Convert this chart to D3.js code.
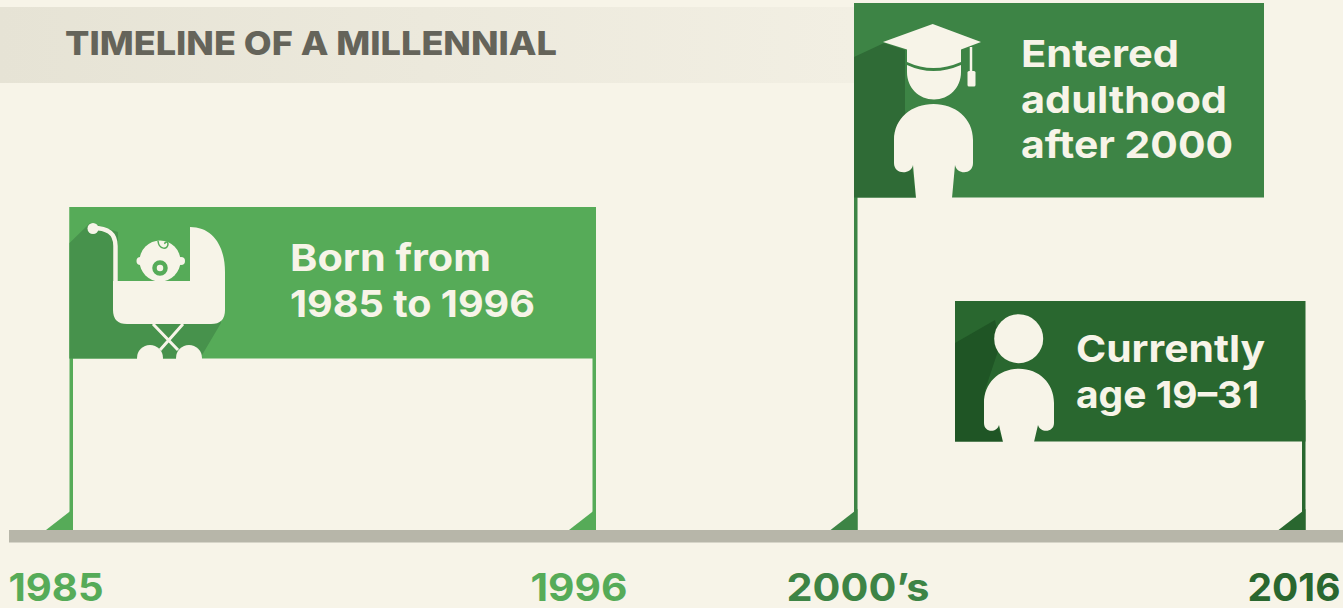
<!DOCTYPE html>
<html>
<head>
<meta charset="utf-8">
<script src="https://cdn.jsdelivr.net/npm/d3@7"></script>
<style>
  html, body { margin: 0; padding: 0; background: #f7f4e8; overflow: hidden; }
  svg { display: block; }
  text { font-family: Inter, "Open Sans", sans-serif; }
</style>
</head>
<body>
<script>
// Timeline stops
var stopYears = [1985, 1996, 2000, 2016];
var stopLabels = ["1985", "1996", "2000\u2019s", "2016"];
var stopColors = ["#56ab58", "#56ab58", "#3d8445", "#29672f"];
var labelShift = [-17.5, -17.5, 0, -12];
var labelWidth = [95, 97, 143, 93];

// Banners
var bannerNames = ["born", "adult", "now"];
var bannerColors = ["#56ab58", "#3d8445", "#29672f"];
var bannerLines = [
  ["Born from", "1985 to 1996"],
  ["Entered", "adulthood", "after 2000"],
  ["Currently", "age 19\u201331"]
];
var bannerLineWidth = [
  [201, 245],
  [158, 206, 212],
  [189, 183]
];

var title = "TIMELINE OF A MILLENNIAL";

var cream = "#f7f4e8";
var poleWidth = 3.5;

var svg = d3.select("body").append("svg")
    .attr("width", 1343)
    .attr("height", 608);

var x = d3.scaleLinear()
    .domain(stopYears)
    .range([73, 596, 857.5, 1305.5]);

// Title strip
var defs = svg.append("defs");
var grad = defs.append("linearGradient").attr("id", "strip");
grad.append("stop").attr("offset", "0%").attr("stop-color", "#e6e3d5");
grad.append("stop").attr("offset", "100%").attr("stop-color", "#f2efe3");

svg.append("rect")
    .attr("x", 0).attr("y", 7)
    .attr("width", 854).attr("height", 76)
    .attr("fill", "url(#strip)");

svg.append("text")
    .attr("x", 65).attr("y", 55)
    .attr("fill", "#65645a")
    .style("font-size", "33px")
    .style("font-weight", 800)
    .attr("textLength", 492)
    .attr("lengthAdjust", "spacingAndGlyphs")
    .text(title);

// Poles and the small triangles at their feet
var axisY = 530;
var poleTop = [207, 207, 100, 400];
svg.selectAll("rect.pole")
    .data(stopYears)
    .enter().append("rect")
    .attr("class", "pole")
    .attr("x", function(d) { return x(d) - poleWidth; })
    .attr("y", function(d, i) { return poleTop[i]; })
    .attr("width", poleWidth)
    .attr("height", function(d, i) { return axisY - poleTop[i]; })
    .attr("fill", function(d, i) { return stopColors[i]; });

svg.selectAll("path.foot")
    .data(stopYears)
    .enter().append("path")
    .attr("class", "foot")
    .attr("d", function(d) {
      return "M" + (x(d) - 27) + "," + axisY + "L" + x(d) + "," + (axisY - 21) + "V" + axisY + "Z";
    })
    .attr("fill", function(d, i) { return stopColors[i]; });

// Ground line
svg.append("rect")
    .attr("x", 9).attr("y", axisY)
    .attr("width", 1334).attr("height", 12.5)
    .attr("fill", "#b7b6a9");

// Year labels from an axis
var axis = svg.append("g")
    .attr("transform", "translate(0,562)")
    .call(d3.axisBottom(x)
      .tickValues(stopYears)
      .tickSize(0)
      .tickPadding(0)
      .tickFormat(function(d) { return stopLabels[stopYears.indexOf(d)]; }));
axis.select(".domain").remove();
axis.selectAll("text")
    .attr("dy", 0)
    .attr("y", 38.5)
    .attr("dx", function(d, i) { return labelShift[i]; })
    .attr("fill", function(d, i) { return stopColors[i]; })
    .attr("textLength", function(d, i) { return labelWidth[i]; })
    .attr("lengthAdjust", "spacingAndGlyphs")
    .style("font-size", "38.5px")
    .style("font-weight", 700);

// Banners
var boxLeft = [x(1985) - poleWidth, x(2000) - poleWidth, 955];
var boxRight = [x(1996), 1264, x(2016)];
var boxTop = [207, 3, 301];
var boxBottom = [358.5, 197.5, 441.5];
var textX = [290, 1021, 1076];
var textY = [271, 67, 362];
var textGap = [46, 45.5, 46];

bannerNames.forEach(function(name, i) {
  var g = svg.append("g").attr("class", "banner-" + name);
  g.append("rect")
      .attr("x", boxLeft[i]).attr("y", boxTop[i])
      .attr("width", boxRight[i] - boxLeft[i])
      .attr("height", boxBottom[i] - boxTop[i])
      .attr("fill", bannerColors[i]);
  g.selectAll("text")
      .data(bannerLines[i])
      .enter().append("text")
      .attr("x", textX[i])
      .attr("y", function(d, j) { return textY[i] + j * textGap[i]; })
      .attr("fill", cream)
      .attr("textLength", function(d, j) { return bannerLineWidth[i][j]; })
      .attr("lengthAdjust", "spacingAndGlyphs")
      .style("font-size", "37.5px")
      .style("font-weight", 700)
      .text(function(d) { return d; });
});

// Stroller icon
var born = svg.select(".banner-born");
born.append("path")
    .attr("d", "M69.5,243L90,223L118,232V300H218L221,323L200,358.5H69.5Z")
    .attr("fill", "#47924c");
born.append("path")
    .attr("d", "M93,228C106,228 115.5,232 115.5,246V285")
    .attr("fill", "none").attr("stroke", cream).attr("stroke-width", 4.5);
born.append("circle").attr("cx", 93).attr("cy", 228.5).attr("r", 5.5).attr("fill", cream);
born.append("path")
    .attr("d", "M113,281H190V227C212,227 225,245 225,272V310Q225,324 211,324H127Q113,324 113,310Z")
    .attr("fill", cream);
born.append("circle").attr("cx", 160).attr("cy", 261).attr("r", 20.5).attr("fill", cream);
born.append("circle").attr("cx", 140.5).attr("cy", 261).attr("r", 4).attr("fill", cream);
born.append("circle").attr("cx", 181).attr("cy", 261).attr("r", 4).attr("fill", cream);
born.append("circle").attr("cx", 160).attr("cy", 268).attr("r", 5.5)
    .attr("fill", cream).attr("stroke", "#56ab58").attr("stroke-width", 4.5);
born.append("path")
    .attr("d", "M158,241C159,250 168,250 168,244C168,241 164,242 165,244")
    .attr("fill", "none").attr("stroke", "#56ab58").attr("stroke-width", 1.5);
born.append("path")
    .attr("d", "M153,324L178,350M183,324L160,350")
    .attr("stroke", cream).attr("stroke-width", 3).attr("fill", "none");
born.append("circle").attr("cx", 150).attr("cy", 358).attr("r", 13).attr("fill", cream);
born.append("circle").attr("cx", 189).attr("cy", 358).attr("r", 13).attr("fill", cream);

// Graduate icon
var adult = svg.select(".banner-adult");
adult.append("path")
    .attr("d", "M854,57L884,43L905,50V110L916,197.5H854Z")
    .attr("fill", "#2f6b36");
adult.append("path")
    .attr("d", "M932.7,24L981,42L961,49.5V62Q933,74 907,62V49.5L883,42Z")
    .attr("fill", cream);
adult.append("path")
    .attr("d", "M907,65Q933,77 961,65V72C961,88 949,99.5 934,99.5C919,99.5 907,88 907,72Z")
    .attr("fill", cream);
adult.append("path")
    .attr("d", "M971,47V72")
    .attr("stroke", cream).attr("stroke-width", 2.5).attr("fill", "none");
adult.append("rect")
    .attr("x", 967.5).attr("y", 71).attr("width", 8).attr("height", 15.5).attr("rx", 1.5)
    .attr("fill", cream);
adult.append("path")
    .attr("d", "M933.5,104C955,104 973,118 973,140V163C973,175 957,175 955,165L952,198H916L913,165C911,175 894,175 894,163V140C894,118 912,104 933.5,104Z")
    .attr("fill", cream);

// Person icon
var now = svg.select(".banner-now");
now.append("path")
    .attr("d", "M955,343L995,320L1000,345L985,390L1003,441.5H955Z")
    .attr("fill", "#1f5525");
now.append("circle").attr("cx", 1018.7).attr("cy", 338.7).attr("r", 24.5).attr("fill", cream);
now.append("path")
    .attr("d", "M1019,368.7C1039,368.7 1054,383 1054,403V423C1054,433 1040,433 1038,425L1034,442H1003L999,425C997,433 984,433 984,423V403C984,383 999,368.7 1019,368.7Z")
    .attr("fill", cream);
</script>
</body>
</html>
